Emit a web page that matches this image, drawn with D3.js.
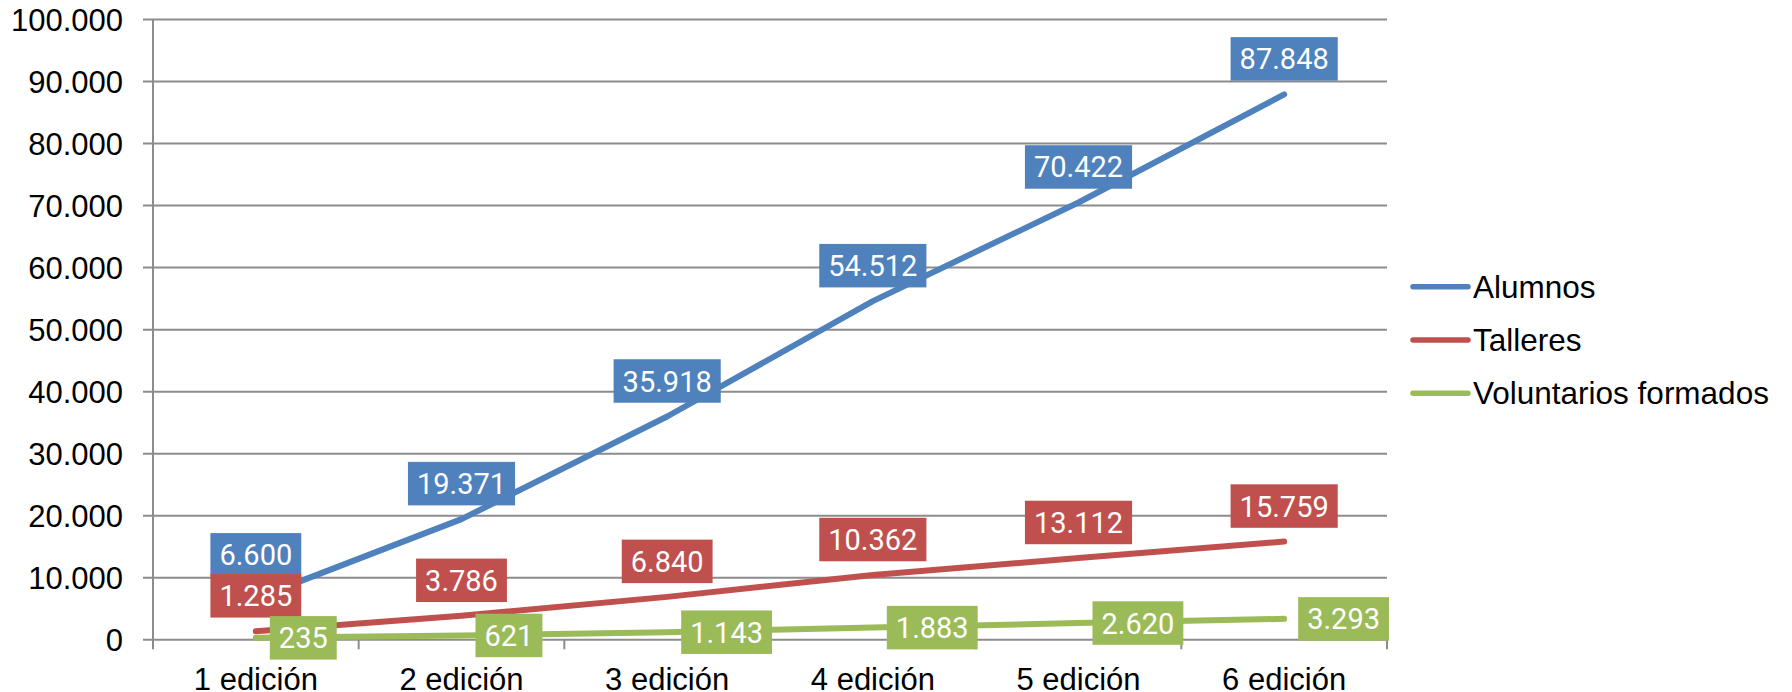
<!DOCTYPE html>
<html>
<head>
<meta charset="utf-8">
<script src="https://cdn.jsdelivr.net/npm/d3@7"></script>
<style>
  body { margin: 0; background: #fff; }
  svg { display: block; }
</style>
</head>
<body>
<svg id="chart" width="1792" height="692"></svg>
<script>
// -- data -- //
let categories = ["1 edición", "2 edición", "3 edición", "4 edición", "5 edición", "6 edición"];
let alumnos = [6600, 19371, 35918, 54512, 70422, 87848];
let talleres = [1285, 3786, 6840, 10362, 13112, 15759];
let voluntarios = [235, 621, 1143, 1883, 2620, 3293];
let seriesNames = ["Alumnos", "Talleres", "Voluntarios formados"];
let yTicks = [0, 10000, 20000, 30000, 40000, 50000, 60000, 70000, 80000, 90000, 100000];

let series = [
    { name: seriesNames[0], values: alumnos, color: "#4F81BD", place: "above" },
    { name: seriesNames[1], values: talleres, color: "#C0504D", place: "above" },
    { name: seriesNames[2], values: voluntarios, color: "#9BBB59", place: "right" }
];

// -- spanish number format -- //
let es = d3.formatLocale({ decimal: ",", thousands: ".", grouping: [3], currency: ["", " €"] });
let fmt = es.format(",d");

let svg = d3.select("#chart");
let plotLeft = 153, plotRight = 1387, plotTop = 19, plotBottom = 639.3;
let gridColor = "#8c8c8c";
let axisFont = "'Liberation Sans', Arial, sans-serif";

let xScale = d3.scaleBand().domain(categories).range([plotLeft, plotRight]);
let yScale = d3.scaleLinear().domain([0, 100000]).range([plotBottom, plotTop]);
let xc = c => xScale(c) + xScale.bandwidth() / 2;

// -- gridlines + y axis -- //
let yAxis = d3.axisLeft(yScale).tickValues(yTicks).tickSize(-(plotRight - plotLeft)).tickFormat(fmt);
let gy = svg.append("g")
    .attr("transform", `translate(${plotLeft},0)`)
    .call(yAxis);
gy.select(".domain").remove();
gy.selectAll(".tick line")
    .attr("x1", -10)
    .style("stroke", gridColor)
    .style("stroke-width", 2);
gy.selectAll(".tick text")
    .attr("x", -30)
    .attr("dy", null)
    .attr("y", 11)
    .style("font-family", axisFont)
    .style("font-size", "31px")
    .style("fill", "#000");

// -- vertical axis line -- //
svg.append("line")
    .attr("x1", plotLeft).attr("x2", plotLeft)
    .attr("y1", plotTop).attr("y2", plotBottom + 10)
    .style("stroke", gridColor)
    .style("stroke-width", 2);

// -- x axis ticks between categories -- //
let bounds = categories.map(c => xScale(c)).concat([plotRight]);
svg.append("g").selectAll("line")
    .data(bounds.slice(1))
    .enter()
    .append("line")
    .attr("x1", d => d).attr("x2", d => d)
    .attr("y1", plotBottom).attr("y2", plotBottom + 10)
    .style("stroke", gridColor)
    .style("stroke-width", 2);

svg.append("g").selectAll("text")
    .data(categories)
    .enter()
    .append("text")
    .attr("x", d => xc(d))
    .attr("y", 690)
    .attr("text-anchor", "middle")
    .style("font-family", axisFont)
    .style("font-size", "31px")
    .style("fill", "#000")
    .text(d => d);

// -- lines -- //
let line = d3.line()
    .x((d, i) => xc(categories[i]))
    .y(d => yScale(d));

svg.append("g").selectAll("path")
    .data(series)
    .enter()
    .append("path")
    .attr("d", d => line(d.values))
    .style("fill", "none")
    .style("stroke", d => d.color)
    .style("stroke-width", 6)
    .style("stroke-linecap", "round")
    .style("stroke-linejoin", "round");

// -- data labels: compute boxes first, then nudge overlapping ones up -- //
let boxH = 43.5, padX = 9;
let labelLayer = svg.append("g");
let boxes = series.map(s => s.values.map((v, i) => {
    let px = xc(categories[i]), py = yScale(v);
    let txt = labelLayer.append("text")
        .style("font-family", "Roboto, sans-serif")
        .style("font-size", "29px")
        .text(fmt(v));
    let w = txt.node().getComputedTextLength() + padX * 2;
    txt.remove();
    if (s.place === "above") return { cx: px, cy: py - 35.5, w: w };
    return { cx: px + 14 + w / 2, cy: py, w: w };
}));
// upper series label gets pushed up if it sits on the one below it
for (let k = 0; k < boxes.length - 1; k++) {
    boxes[k].forEach((b, i) => {
        let below = boxes[k + 1][i];
        let overlapX = Math.abs(b.cx - below.cx) < (b.w + below.w) / 2;
        let overlap = (b.cy + boxH / 2) - (below.cy - boxH / 2);
        if (overlapX && overlap > 2.5) b.cy -= overlap - 2.5;
    });
}

series.forEach((s, k) => {
    let g = labelLayer.append("g");
    s.values.forEach((v, i) => {
        let b = boxes[k][i];
        g.append("rect")
            .attr("x", b.cx - b.w / 2).attr("y", b.cy - boxH / 2)
            .attr("width", b.w).attr("height", boxH)
            .style("fill", s.color);
        g.append("text")
            .attr("x", b.cx).attr("y", b.cy + 10.5)
            .attr("text-anchor", "middle")
            .style("font-family", "Roboto, sans-serif")
            .style("font-size", "29px")
            .style("fill", "#fff")
            .text(fmt(v));
    });
});

// -- legend -- //
let legend = svg.append("g").selectAll("g")
    .data(series)
    .enter()
    .append("g")
    .attr("transform", (d, i) => `translate(1413, ${286.7 + i * 53.3})`);
legend.append("line")
    .attr("x1", 0).attr("x2", 55)
    .style("stroke", d => d.color)
    .style("stroke-width", 5.5)
    .style("stroke-linecap", "round");
legend.append("text")
    .attr("x", 60)
    .attr("y", 11)
    .style("font-family", axisFont)
    .style("font-size", "31.5px")
    .style("fill", "#000")
    .text(d => d.name);
</script>
</body>
</html>
